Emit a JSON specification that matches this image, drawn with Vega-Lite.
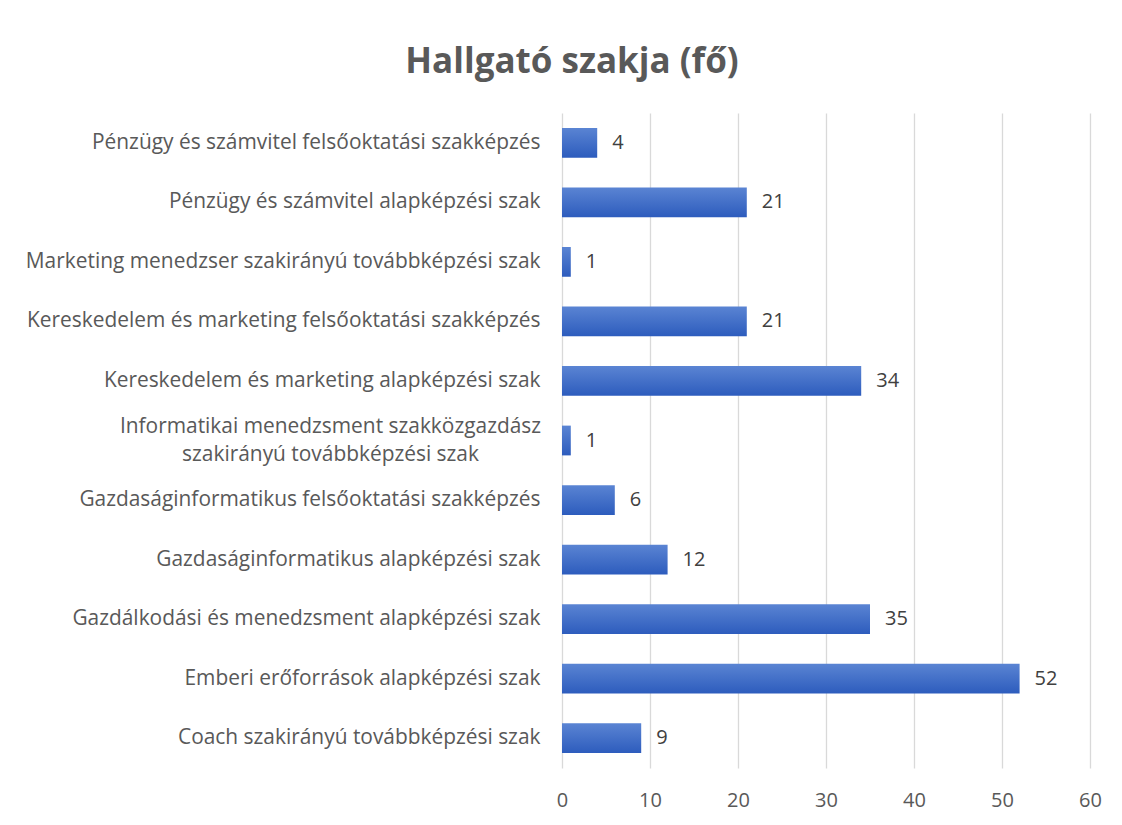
{
  "$schema": "https://vega.github.io/schema/vega-lite/v6.json",
  "autosize": {"type": "none"},
  "width": 528,
  "height": 655,
  "padding": {"left": 562, "top": 113, "right": 32, "bottom": 57},
  "background": "white",
  "title": {
    "text": "Hallgató szakja (fő)",
    "font": "Open Sans",
    "fontSize": 35,
    "fontWeight": "bold",
    "color": "#595959",
    "anchor": "middle",
    "frame": "group",
    "dx": -254,
    "offset": 33
  },
  "data": {
    "values": [
      {"szak": "Pénzügy és számvitel felsőoktatási szakképzés", "fo": 4},
      {"szak": "Pénzügy és számvitel alapképzési szak", "fo": 21},
      {"szak": "Marketing menedzser szakirányú továbbképzési szak", "fo": 1},
      {"szak": "Kereskedelem és marketing felsőoktatási szakképzés", "fo": 21},
      {"szak": "Kereskedelem és marketing alapképzési szak", "fo": 34},
      {"szak": "Informatikai menedzsment szakközgazdász|szakirányú továbbképzési szak", "fo": 1},
      {"szak": "Gazdaságinformatikus felsőoktatási szakképzés", "fo": 6},
      {"szak": "Gazdaságinformatikus alapképzési szak", "fo": 12},
      {"szak": "Gazdálkodási és menedzsment alapképzési szak", "fo": 35},
      {"szak": "Emberi erőforrások alapképzési szak", "fo": 52},
      {"szak": "Coach szakirányú továbbképzési szak", "fo": 9}
    ]
  },
  "encoding": {
    "y": {
      "field": "szak",
      "type": "nominal",
      "sort": null,
      "scale": {"paddingInner": 0.5, "paddingOuter": 0.25},
      "axis": {
        "title": null,
        "domain": false,
        "ticks": false,
        "labelExpr": "split(datum.label, '|')",
        "labelFont": "Open Sans",
        "labelFontSize": 20.9,
        "labelColor": "#595959",
        "labelLimit": 700,
        "labelLineHeight": 28,
        "labelAlign": {"condition": {"test": "indexof(datum.value, '|') >= 0", "value": "center"}, "value": "right"},
        "labelPadding": {"condition": {"test": "indexof(datum.value, '|') >= 0", "value": 232}, "value": 22},
        "labelOffset": {"condition": {"test": "indexof(datum.value, '|') >= 0", "value": -14}, "value": 0}
      }
    },
    "x": {
      "field": "fo",
      "type": "quantitative",
      "scale": {"domain": [0, 60], "nice": false},
      "axis": {
        "title": null,
        "values": [0, 10, 20, 30, 40, 50, 60],
        "domain": false,
        "ticks": false,
        "grid": true,
        "gridColor": "#D9D9D9",
        "gridWidth": 1.3,
        "labelFlush": false,
        "labelFont": "Open Sans",
        "labelFontSize": 20,
        "labelColor": "#595959",
        "labelPadding": 22
      }
    }
  },
  "layer": [
    {
      "mark": {
        "type": "bar",
        "color": {
          "gradient": "linear",
          "x1": 0, "y1": 0, "x2": 0, "y2": 1,
          "stops": [
            {"offset": 0, "color": "#5A84D3"},
            {"offset": 1, "color": "#2D5CBD"}
          ]
        }
      }
    },
    {
      "mark": {
        "type": "text",
        "align": "left",
        "baseline": "middle",
        "dx": 15,
        "font": "Open Sans",
        "fontSize": 20,
        "color": "#404040"
      },
      "encoding": {"text": {"field": "fo", "type": "quantitative"}}
    }
  ],
  "config": {"view": {"stroke": null}}
}
